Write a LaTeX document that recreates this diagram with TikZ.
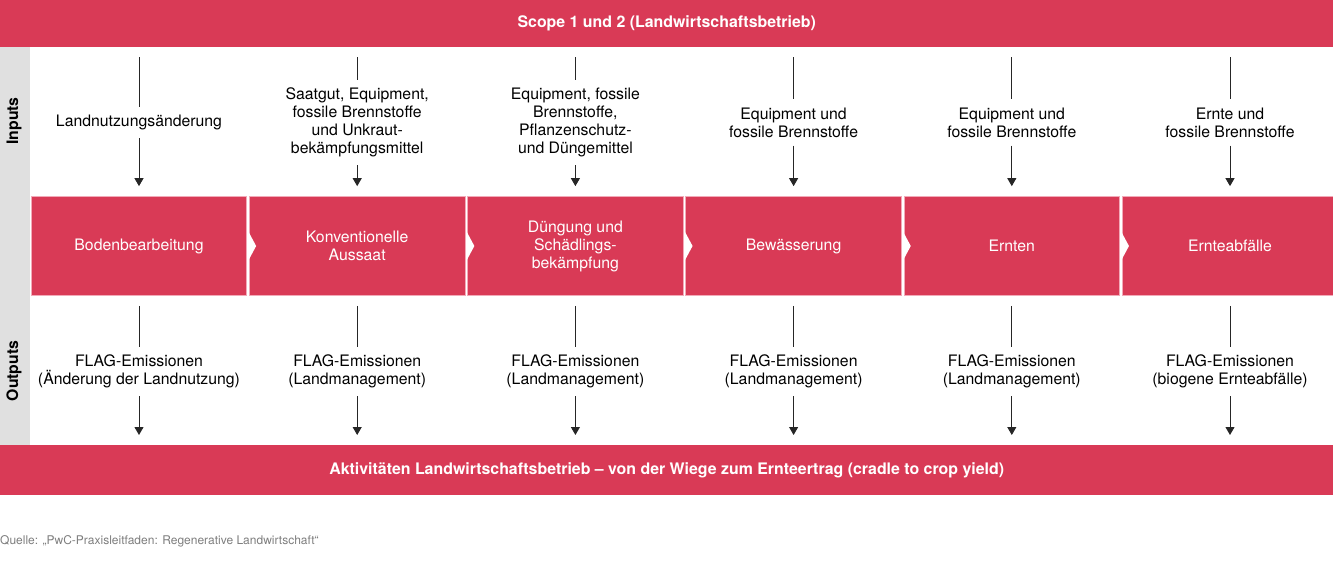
\documentclass[tikz,border=0pt]{standalone}
\usepackage{fontspec}
\setmainfont{TeX Gyre Heros}
\usetikzlibrary{arrows.meta}
\definecolor{pwcred}{RGB}{217,58,86}
\definecolor{sidegrey}{RGB}{224,224,224}
\definecolor{boxedge}{RGB}{242,170,184}
\definecolor{srcgrey}{RGB}{125,125,125}
\tikzset{
  bar/.style={fill=pwcred, text=white, font=\fontsize{15.9}{18}\selectfont\bfseries, inner sep=0pt, minimum width=1333pt, anchor=north west},
  stepbox/.style={fill=pwcred, draw=boxedge, line width=0.7pt, text=white, align=center, font=\fontsize{15.8}{18}\selectfont, minimum width=215.6pt, minimum height=99pt, inner sep=0pt},
  lbl/.style={align=center, font=\fontsize{15.8}{18}\selectfont, inner xsep=2pt, inner ysep=8pt},
  side/.style={rotate=90, font=\fontsize{15.8}{18}\selectfont\bfseries},
  conn/.style={draw=black!85, line width=0.9pt},
  arr/.style={conn, -{Triangle[width=9pt,length=8pt]}},
}
\begin{document}
\begin{tikzpicture}[x=1pt,y=-1pt]
\useasboundingbox (0,0) rectangle (1333,565);
% bars
\node[bar, minimum height=47pt] (top) at (0,0) {Scope 1 und 2 (Landwirtschaftsbetrieb)};
\node[bar, minimum height=50pt] (bot) at (0,445) {Aktivitäten Landwirtschaftsbetrieb – von der Wiege zum Ernteertrag (cradle to crop yield)};
% side grey
\fill[sidegrey] (0,47) rectangle (30,445);
\node[side] (sin) at (14,121) {Inputs};
\node[side] (sout) at (14,371) {Outputs};
% boxes
\node[stepbox] (b1) at (139,246) {Bodenbearbeitung};
\node[stepbox] (b2) at (357.2,246) {Konventionelle\\Aussaat};
\node[stepbox] (b3) at (575.4,246) {Düngung und\\Schädlings-\\bekämpfung};
\node[stepbox] (b4) at (793.6,246) {Bewässerung};
\node[stepbox] (b5) at (1011.8,246) {Ernten};
\node[stepbox] (b6) at (1230,246) {Ernteabfälle};
% chevrons
\foreach \b in {b2,b3,b4,b5,b6}{
  \fill[white] ([xshift=-0.4pt]\b.west) ++(0,-14) -- ++(7.5,14) -- ++(-7.5,14) -- cycle;
}
% inputs
\node[lbl] (i1) at (139,122.5) {Landnutzungsänderung};
\node[lbl] (i2) at (357.2,122.5) {Saatgut, Equipment,\\fossile Brennstoffe\\und Unkraut-\\bekämpfungsmittel};
\node[lbl] (i3) at (575.4,122.5) {Equipment, fossile\\Brennstoffe,\\Pflanzenschutz-\\und Düngemittel};
\node[lbl] (i4) at (793.6,122.5) {Equipment und\\fossile Brennstoffe};
\node[lbl] (i5) at (1011.8,122.5) {Equipment und\\fossile Brennstoffe};
\node[lbl] (i6) at (1230,122.5) {Ernte und\\fossile Brennstoffe};
% outputs
\node[lbl] (o1) at (139,371.5) {FLAG-Emissionen\\(Änderung der Landnutzung)};
\node[lbl] (o2) at (357.2,371.5) {FLAG-Emissionen\\(Landmanagement)};
\node[lbl] (o3) at (575.4,371.5) {FLAG-Emissionen\\(Landmanagement)};
\node[lbl] (o4) at (793.6,371.5) {FLAG-Emissionen\\(Landmanagement)};
\node[lbl] (o5) at (1011.8,371.5) {FLAG-Emissionen\\(Landmanagement)};
\node[lbl] (o6) at (1230,371.5) {FLAG-Emissionen\\(biogene Ernteabfälle)};
% connectors
\foreach \k in {1,...,6}{
  \draw[conn, shorten <=10pt] (top.south -| i\k.north) -- (i\k.north);
  \draw[arr, shorten >=10pt] (i\k.south) -- (b\k.north);
  \draw[conn, shorten <=10pt] (b\k.south) -- (o\k.north);
  \draw[arr, shorten >=10pt] (o\k.south) -- (bot.north -| o\k.south);
}
% source
\node[anchor=west, inner sep=0pt, text=srcgrey, font=\fontsize{12}{14}\selectfont] (src) at (0,541) {Quelle: „PwC-Praxisleitfaden: Regenerative Landwirtschaft“};
\end{tikzpicture}
\end{document}
